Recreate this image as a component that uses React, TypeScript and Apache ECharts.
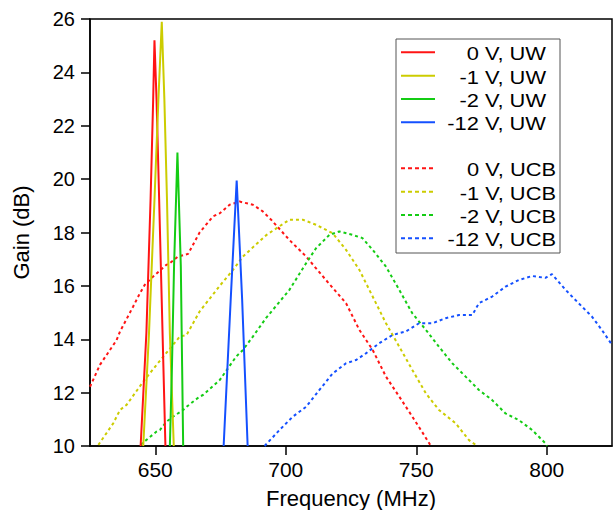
import React, { useEffect, useRef } from "react";
import * as echarts from "echarts";

// Series names
const uwNames = ["0 V, UW", "-1 V, UW", "-2 V, UW", "-12 V, UW"];
const ucbNames = ["0 V, UCB", "-1 V, UCB", "-2 V, UCB", "-12 V, UCB"];
const colors = ["#ff1414", "#cccc00", "#14cc14", "#1450ff"];

// X axis tick labels
const xTicks = [650, 700, 750, 800];

// UW (solid) curves: [frequency MHz, gain dB]
const uw0V: [number, number][] = [
  [644.4, 10], [646.6, 14.22], [648.2, 19.22], [649.2, 22.97], [649.7, 25.2],
  [650.5, 22.97], [651.5, 19.22], [652.8, 14.22], [653.9, 10],
];
const uw1V: [number, number][] = [
  [645.4, 10], [647.6, 14.22], [649.7, 19.22], [651.2, 22.97], [652.5, 25.9],
  [653.5, 22.97], [654.5, 19.22], [655.6, 14.22], [657.1, 10],
];
const uw2V: [number, number][] = [
  [655.6, 10], [656.4, 12.97], [657.2, 16.72], [658.5, 21.0],
  [659.8, 16.72], [660.3, 12.97], [660.7, 10],
];
const uw12V: [number, number][] = [
  [676.2, 10], [678.9, 15.47], [681.2, 19.95], [683.3, 15.47], [685.4, 10],
];

// UCB (dotted) curves
const ucb0V: [number, number][] = [
  [625, 12.22], [628.8, 13.04], [635.2, 13.97], [636.5, 14.29], [641.5, 15.22],
  [644.1, 15.72], [646, 16.04], [649.2, 16.35], [654.3, 16.79], [655.6, 16.85],
  [658.7, 17.1], [662.6, 17.2], [667, 18.0], [672.1, 18.6], [674.7, 18.72],
  [678.5, 19.04], [682.3, 19.16], [687.4, 19.04], [691.2, 18.79], [694.4, 18.48],
  [701.4, 17.72], [707.8, 17.1], [715.4, 16.22], [723.1, 15.35], [728.2, 14.35],
  [733.3, 13.6], [738.4, 12.6], [743.5, 11.85], [748.5, 11.1], [753, 10.41],
  [755.6, 10.0],
];
const ucb1V: [number, number][] = [
  [628.2, 10.04], [633.9, 10.85], [636.5, 11.35], [639, 11.54], [645.4, 12.41],
  [650.5, 13.04], [656.8, 13.79], [659.4, 14.1], [662, 14.16], [667, 15.04],
  [674.7, 16.0], [679.8, 16.6], [683.6, 17.1], [692.5, 17.9], [701.4, 18.48],
  [706.5, 18.48], [711.6, 18.29], [718, 17.97], [723.1, 17.35], [728.2, 16.6],
  [733.3, 15.6], [738.4, 14.6], [743.5, 13.72], [748.5, 12.85], [753.7, 11.97],
  [758.7, 11.35], [765.1, 10.85], [770.2, 10.22], [773.4, 10.0],
];
const ucb2V: [number, number][] = [
  [644.4, 10.05], [650.5, 10.54], [651.8, 10.6], [654.3, 10.91], [656.8, 11.1],
  [660.7, 11.35], [662, 11.47], [667, 11.85], [668.3, 11.91], [674.7, 12.47],
  [681, 13.35], [683.6, 13.6], [687.4, 14.1], [692.5, 14.8], [701.4, 15.85],
  [707.8, 16.85], [711.6, 17.41], [716.7, 17.91], [720.5, 18.04], [725.6, 17.91],
  [729.4, 17.79], [733.3, 17.35], [738.4, 16.72], [743.5, 15.85], [748.5, 14.97],
  [753.7, 14.35], [758.7, 13.72], [763.8, 13.1], [768.9, 12.6], [774, 12.1],
  [779.1, 11.72], [784.2, 11.22], [789.3, 10.97], [794.4, 10.6], [799.5, 10.1],
  [800.1, 10.0],
];
const ucb12V: [number, number][] = [
  [691.9, 10.0], [697.6, 10.6], [702.7, 11.1], [707.8, 11.47], [712.9, 12.1],
  [718, 12.72], [723.1, 13.1], [726.9, 13.22], [730.7, 13.47], [735.8, 13.85],
  [740.9, 14.16], [746, 14.29], [751.1, 14.6], [756.2, 14.6], [761.3, 14.79],
  [766.4, 14.91], [771.5, 14.91], [774, 15.35], [779.1, 15.6], [784.2, 15.97],
  [789.3, 16.22], [794.4, 16.37], [799.5, 16.3], [802, 16.44], [807.2, 15.85],
  [812.2, 15.35], [817.3, 14.85], [821.1, 14.35], [824.6, 13.85], [825, 13.8],
];

const uwData = [uw0V, uw1V, uw2V, uw12V];
const ucbData = [ucb0V, ucb1V, ucb2V, ucb12V];

const FONT = "'Liberation Sans', Arial, Helvetica, sans-serif";

export default function App() {
  const ref = useRef<HTMLDivElement>(null);
  useEffect(() => {
    if (!ref.current) return;
    const chart = echarts.init(ref.current, null, { renderer: "svg" });

    const dash = [3, 3];
    const series: any[] = [];
    ucbData.forEach((d, i) => {
      series.push({
        name: ucbNames[i],
        type: "line",
        data: d,
        showSymbol: false,
        symbol: "none",
        clip: true,
        lineStyle: { color: colors[i], width: 2, type: dash },
        itemStyle: { color: colors[i] },
        z: 2,
      });
    });
    uwData.forEach((d, i) => {
      series.push({
        name: uwNames[i],
        type: "line",
        data: d,
        showSymbol: false,
        symbol: "none",
        clip: true,
        lineStyle: { color: colors[i], width: 2, type: "solid" },
        itemStyle: { color: colors[i] },
        z: 3,
      });
    });

    // Legend drawn as graphic
    const legendChildren: any[] = [];
    const boxX = 396, boxY = 39, boxW = 164, boxH = 214;
    legendChildren.push({
      type: "rect",
      shape: { x: boxX, y: boxY, width: boxW, height: boxH },
      style: { fill: "#fff", stroke: "#555", lineWidth: 1 },
    });
    const rowsUW = [52.3, 75.7, 99, 122.3];
    const rowsUCB = [168.3, 191.7, 215, 238.3];
    const addRow = (name: string, color: string, y: number, dashed: boolean, textRight: number) => {
      legendChildren.push({
        type: "line",
        shape: { x1: 401, y1: y, x2: 435, y2: y },
        style: { stroke: color, lineWidth: 2, lineDash: dashed ? [4, 3] : null },
      });
      legendChildren.push({
        type: "text",
        x: textRight,
        y: y + 1,
        scaleX: 1.15,
        style: {
          text: name,
          fill: "#000",
          font: `19px ${FONT}`,
          align: "right",
          verticalAlign: "middle",
        },
      });
    };
    uwNames.forEach((n, i) => addRow(n, colors[i], rowsUW[i], false, 546));
    ucbNames.forEach((n, i) => addRow(n, colors[i], rowsUCB[i], true, 556));

    chart.setOption({
      animation: false,
      backgroundColor: "#fff",
      grid: {
        left: 90,
        right: 1,
        top: 19,
        bottom: 64,
        show: true,
        borderColor: "#000",
        borderWidth: 1.5,
        backgroundColor: "transparent",
        containLabel: false,
        outerBoundsMode: "none",
      },
      xAxis: {
        type: "value",
        min: 625,
        max: 825,
        name: "Frequency (MHz)",
        nameLocation: "middle",
        nameGap: 41,
        nameTextStyle: { fontSize: 22, color: "#000", fontFamily: FONT },
        splitLine: { show: false },
        axisLine: { show: true, onZero: false, lineStyle: { color: "#000", width: 1.5 } },
        axisTick: {
          show: true,
          inside: false,
          length: 9,
          lineStyle: { color: "#000", width: 1.5 },
          customValues: xTicks,
        },
        axisLabel: {
          fontSize: 21,
          color: "#000",
          fontFamily: FONT,
          margin: 13,
          customValues: xTicks,
        },
      },
      yAxis: {
        type: "value",
        min: 10,
        max: 26,
        interval: 2,
        name: "Gain (dB)",
        nameLocation: "middle",
        nameGap: 58,
        nameTextStyle: { fontSize: 22, color: "#000", fontFamily: FONT },
        splitLine: { show: false },
        axisLine: { show: true, onZero: false, lineStyle: { color: "#000", width: 1.5 } },
        axisTick: { show: true, inside: false, length: 9, lineStyle: { color: "#000", width: 1.5 } },
        axisLabel: { fontSize: 20, color: "#000", fontFamily: FONT, margin: 15 },
      },
      series,
      graphic: [{ type: "group", children: legendChildren, z: 100 }],
    });

    return () => chart.dispose();
  }, []);

  return (
    <div
      ref={ref}
      style={{ position: "absolute", left: 0, top: 0, width: 613, height: 510 }}
    />
  );
}
